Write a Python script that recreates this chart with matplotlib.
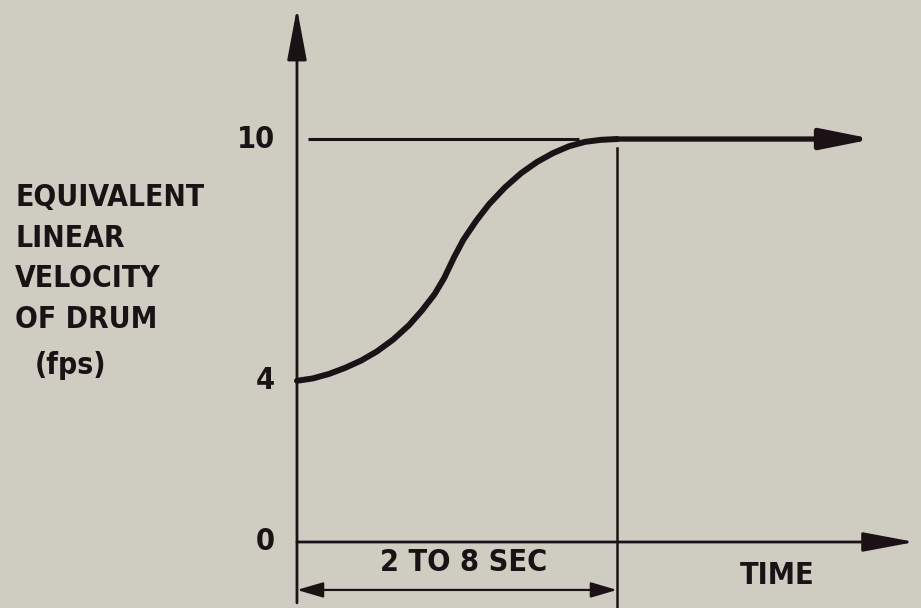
import matplotlib
matplotlib.use("Agg")
import matplotlib.pyplot as plt

# time as fraction of the transition period (0 = start, 1 = end of "2 TO 8 SEC")
curve_t = [0.0, 0.05, 0.10, 0.15, 0.20, 0.25, 0.30, 0.35, 0.39, 0.43, 0.46,
           0.49, 0.52, 0.56, 0.60, 0.65, 0.70, 0.75, 0.80, 0.85, 0.90, 0.95, 1.0]
curve_v = [4.0, 4.06, 4.17, 4.32, 4.50, 4.73, 5.02, 5.38, 5.74, 6.15, 6.55,
           7.05, 7.50, 7.97, 8.38, 8.80, 9.15, 9.43, 9.65, 9.82, 9.93, 9.98, 10.0]
plateau_end = 1.80
axis_end_t = 1.93
axis_top_v = 13.25
ref_line_t = [0.035, 0.88]
tick_vals = [0, 4, 10]
ylabel_lines = ["EQUIVALENT", "LINEAR", "VELOCITY", "OF DRUM"]
ylabel_v = [8.56, 7.54, 6.55, 5.51]

bg = "#cfccc2"
ink = "#1a1214"

txt = dict(fontweight="bold", family="DejaVu Sans", fontstretch="condensed",
           color=ink)

fig = plt.figure(figsize=(9.21, 6.08), dpi=100, facecolor=bg)
ax = fig.add_axes([0, 0, 1, 1])
ax.set_facecolor(bg)
ax.set_xlim(-0.928, 1.95)
ax.set_ylim(-1.638, 13.45)
ax.axis("off")

# axes with arrows
ax.annotate("", xy=(0, axis_top_v), xytext=(0, -1.51),
            arrowprops=dict(arrowstyle="-|>,head_length=3.2,head_width=0.6",
                            mutation_scale=10, lw=2.0, color=ink,
                            shrinkA=0, shrinkB=0))
ax.annotate("", xy=(axis_end_t, 0), xytext=(0, 0),
            arrowprops=dict(arrowstyle="-|>,head_length=3.2,head_width=0.6",
                            mutation_scale=10, lw=2.0, color=ink,
                            shrinkA=0, shrinkB=0))

# reference line at 10
ax.plot(ref_line_t, [10, 10], color=ink, lw=2.2, solid_capstyle="butt")

# velocity curve and plateau
ax.plot(curve_t, curve_v, color=ink, lw=4.3, solid_capstyle="round",
        solid_joinstyle="round")
ax.annotate("", xy=(plateau_end, 10), xytext=(curve_t[-1], 10),
            arrowprops=dict(arrowstyle="-|>,head_length=3.1,head_width=0.62",
                            mutation_scale=10, lw=3.8, color=ink,
                            shrinkA=0, shrinkB=0))

# end of transition marker
ax.plot([1.0, 1.0], [9.78, -1.64], color=ink, lw=1.8)

# dimension arrow
ax.annotate("", xy=(1.0, -1.19), xytext=(0, -1.19),
            arrowprops=dict(arrowstyle="<|-|>,head_length=1.6,head_width=0.47",
                            mutation_scale=10, lw=1.6, color=ink,
                            shrinkA=0, shrinkB=0))
ax.text(0.52, -0.52, "2 TO 8 SEC", ha="center", va="center", fontsize=22, **txt)
ax.text(1.5, -0.82, "TIME", ha="center", va="center", fontsize=22, **txt)

# tick labels
for v in tick_vals:
    ax.text(-0.069, v, str(v), ha="right", va="center", fontsize=22, **txt)

# y label
for line, v in zip(ylabel_lines, ylabel_v):
    ax.text(-0.881, v, line, ha="left", va="center", fontsize=21.5, **txt)
ax.text(-0.82, 4.39, "(fps)", ha="left", va="center", fontsize=21.5, **txt)

fig.savefig("out.png", dpi=100, facecolor=bg)
